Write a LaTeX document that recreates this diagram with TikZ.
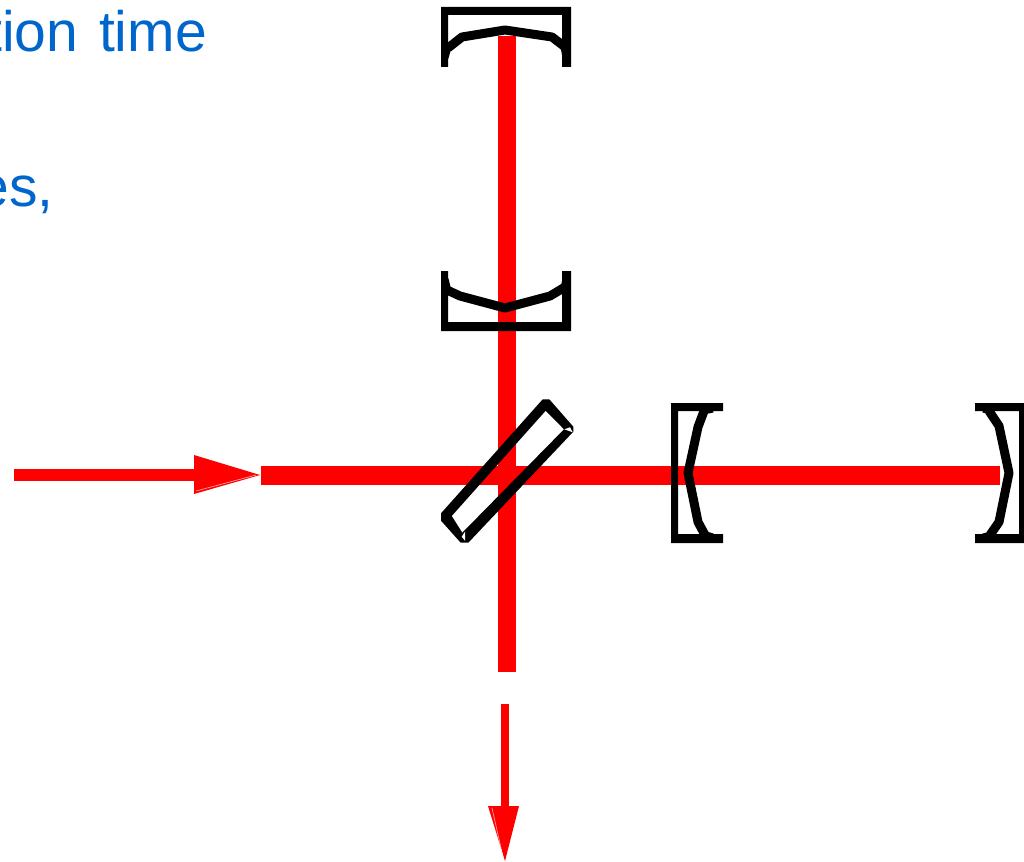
\documentclass[tikz,border=0pt]{standalone}
\usepackage{fontspec}
\setmainfont{Liberation Sans}
\definecolor{beamred}{RGB}{255,0,0}
\definecolor{textblue}{RGB}{0,102,204}
\tikzset{
  beam/.style={fill=beamred,draw=none},
  ray/.style={fill=beamred,draw=none},
  seam/.style={draw=white,line width=0.7pt,opacity=0.6},
  housing/.style={fill=black,draw=none},
  mirrorline/.style={draw=black,line width=9pt,line join=bevel},
  tail/.style={draw=black,line width=5pt},
  label/.style={text=textblue,font=\fontsize{57}{57}\selectfont,inner sep=0pt,anchor=base east}
}
\begin{document}
\begin{tikzpicture}[x=1pt,y=-1pt]
\useasboundingbox (0,0) rectangle (1024,861);
\clip (0,0) rectangle (1024,861);
\fill[white] (0,0) rectangle (1024,861);
% text
\node[label] (t1) at (207,52) {tion\hspace{5pt} time};
\node[label] (t2) at (54,206) {es,};
% beams
\fill[beam] (498,36) rectangle (516,672);
\fill[beam] (261,466) rectangle (1000,485);
% input arrow
\fill[ray] (14,469) rectangle (196,481);
\fill[ray] (194,455) -- (260,475) -- (194,494) -- cycle;
\draw[seam] (196,491) -- (256,475);
% output arrow
\fill[ray] (501,704) rectangle (509,808);
\fill[ray] (488,806) -- (519,806) -- (505,861) -- cycle;
\draw[seam] (492,808) -- (503,857);
% top mirror
\fill[housing] (441,7) -- (571,7) -- (571,67) -- (562,67) -- (562,15) -- (448,15) -- (448,67) -- (441,67) -- cycle;
\draw[mirrorline] (448,48) -- (462,37) -- (505,30) -- (552,37) -- (565,47);
\draw[tail] (449,47) -- (446,58);
\draw[tail] (563,46) -- (565,58);
% second mirror
\fill[housing] (441,271) -- (448,271) -- (448,322) -- (562,322) -- (562,271) -- (571,271) -- (571,331) -- (441,331) -- cycle;
\draw[mirrorline] (447,290) -- (460,296) -- (505,308) -- (550,296) -- (565,287);
\draw[tail] (449,291) -- (446,279);
\draw[tail] (563,288) -- (565,279);
% beam splitter
\fill[black,even odd rule] (542.7,399.3) -- (549.3,399.3) -- (573.3,426.7) -- (573.3,431.7) -- (468.3,542.7) -- (460.7,542.7) -- (441,520.7) -- (441,513.3) -- cycle
  (545.7,410.7) -- (564,429.3) -- (462.3,532.7) -- (451.7,516) -- cycle;
\fill[white] (564.3,429.3) -- (570,427.3) -- (572.7,432.3) -- cycle;
\fill[white] (461.7,536.7) -- (465,531.7) -- (465,540.7) -- cycle;
% left mirror
\fill[housing] (671,403) -- (723,403) -- (723,411) -- (678,411) -- (678,534) -- (723,534) -- (723,543) -- (671,543) -- cycle;
\draw[mirrorline] (704,411) -- (698,427) -- (688,473) -- (698,522) -- (705,535);
\draw[tail] (703,412) -- (713,410);
\draw[tail] (703,533) -- (713,536);
% right mirror
\fill[housing] (975,403) -- (1024,403) -- (1024,543) -- (975,543) -- (975,534) -- (1019,534) -- (1019,411) -- (975,411) -- cycle;
\draw[mirrorline] (989,411) -- (999,426) -- (1009,473) -- (999,522) -- (990,535);
\draw[tail] (990,412) -- (983,410);
\draw[tail] (991,534) -- (983,536);
\end{tikzpicture}
\end{document}
